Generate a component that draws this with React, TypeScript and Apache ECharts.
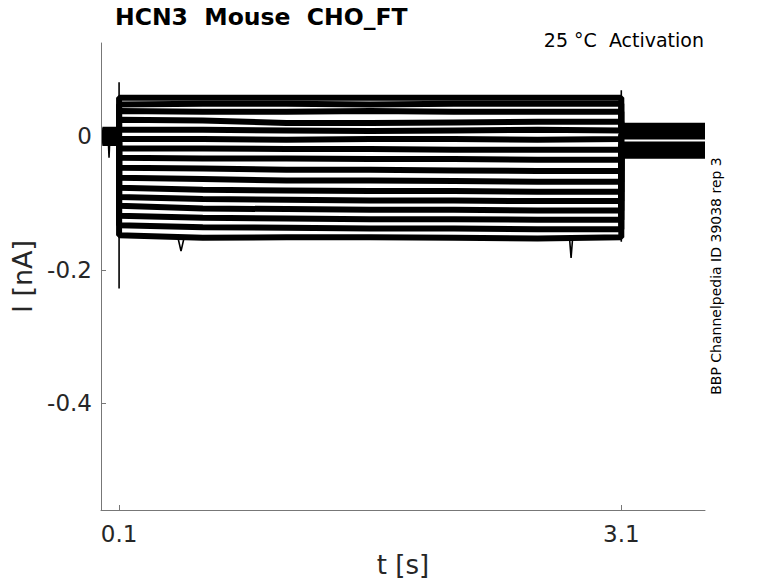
import React, { useEffect, useRef } from "react";
import * as echarts from "echarts";

// time points (s) of the voltage step where each trace level is read
const stepTimes = [0.1, 0.6, 1.1, 1.6, 2.1, 2.6, 3.1];
const preTimes = [0, 0.1];
const tailTimes = [3.1, 3.6];

// holding current before the step (nA)
const preLevels = [0.01, 0.008, 0.006, 0.004, 0.002, 0.0, -0.002, -0.004, -0.006, -0.008, -0.01, 0.005, 0.003, -0.003, -0.005, 0.001];
// current during the step for each sweep (nA)
const stepLevels = [
  [0.058, 0.058, 0.058, 0.058, 0.058, 0.058, 0.058],
  [0.048, 0.049, 0.049, 0.048, 0.049, 0.049, 0.049],
  [0.038, 0.037, 0.037, 0.038, 0.037, 0.037, 0.037],
  [0.025, 0.024, 0.02, 0.02, 0.021, 0.022, 0.022],
  [0.01, 0.01, 0.009, 0.008, 0.009, 0.01, 0.009],
  [-0.004, -0.004, -0.005, -0.004, -0.004, -0.005, -0.004],
  [-0.018, -0.018, -0.019, -0.019, -0.02, -0.02, -0.02],
  [-0.032, -0.033, -0.033, -0.034, -0.034, -0.035, -0.035],
  [-0.047, -0.048, -0.05, -0.05, -0.051, -0.052, -0.052],
  [-0.062, -0.064, -0.066, -0.066, -0.067, -0.068, -0.068],
  [-0.077, -0.08, -0.081, -0.082, -0.082, -0.083, -0.083],
  [-0.091, -0.094, -0.095, -0.096, -0.096, -0.097, -0.097],
  [-0.104, -0.108, -0.109, -0.11, -0.11, -0.111, -0.111],
  [-0.119, -0.122, -0.123, -0.124, -0.124, -0.125, -0.125],
  [-0.133, -0.136, -0.137, -0.138, -0.138, -0.139, -0.139],
  [-0.148, -0.152, -0.151, -0.151, -0.152, -0.153, -0.151],
];
// tail current after the step (nA)
const tailLevels = [0.016, 0.013, 0.01, 0.008, 0.006, 0.004, 0.002, 0.0, -0.012, -0.014, -0.016, -0.018, -0.02, -0.023, -0.026, -0.029];
// capacitive transients at step on / off and a dip before the step
const onTransient = [[0.1, 0.081], [0.1, -0.228]];
const offTransient = [[3.1, 0.069], [3.1, -0.158]];
const preDip = [[0.035, -0.002], [0.04, -0.032], [0.045, -0.002]];
const lowSpikes = [[0.45, -0.15], [0.47, -0.172], [0.49, -0.15]];
const lowSpikes2 = [[2.79, -0.15], [2.8, -0.182], [2.81, -0.15]];

const xTicks = [0.1, 3.1];
const yTicks = [0, -0.2, -0.4];

const App: React.FC = () => {
  const ref = useRef<HTMLDivElement>(null);
  useEffect(() => {
    if (!ref.current) return;
    const chart = echarts.init(ref.current, undefined, { renderer: "svg" });
    const traceSeries = stepLevels.map((lv, i) => {
      const data: number[][] = [];
      preTimes.forEach((t) => data.push([t, preLevels[i]]));
      stepTimes.forEach((t, j) => data.push([t, lv[j]]));
      tailTimes.forEach((t) => data.push([t, tailLevels[i]]));
      return {
        type: "line",
        data,
        symbol: "none",
        silent: true,
        lineStyle: { color: "#000", width: 6 },
        z: 2,
      };
    });
    const extra = [onTransient, offTransient, preDip, lowSpikes, lowSpikes2].map((d) => ({
      type: "line",
      data: d,
      symbol: "none",
      silent: true,
      lineStyle: { color: "#000", width: 1.6 },
      z: 3,
    }));
    chart.setOption({
      animation: false,
      grid: { left: 101, right: 73, top: 43, bottom: 70, containLabel: false },
      xAxis: {
        type: "value",
        min: -0.008,
        max: 3.6,
        name: "t [s]",
        nameLocation: "middle",
        nameGap: 42,
        nameTextStyle: { fontFamily: "DejaVu Sans", fontSize: 26, color: "#262626" },
        axisLine: { show: true, onZero: false, lineStyle: { color: "#777", width: 1 } },
        axisTick: { show: true, inside: true, length: 5, customValues: xTicks, lineStyle: { color: "#777" } },
        axisLabel: { customValues: xTicks, fontFamily: "DejaVu Sans", fontSize: 23, color: "#262626", margin: 12 },
        splitLine: { show: false },
      },
      yAxis: {
        type: "value",
        min: -0.56,
        max: 0.14,
        name: "I [nA]",
        nameLocation: "middle",
        nameGap: 60,
        nameRotate: 90,
        nameTextStyle: { fontFamily: "DejaVu Sans", fontSize: 27, color: "#262626" },
        axisLine: { show: true, onZero: false, lineStyle: { color: "#777", width: 1 } },
        axisTick: { show: true, inside: true, length: 5, customValues: yTicks, lineStyle: { color: "#777" } },
        axisLabel: { customValues: yTicks, fontFamily: "DejaVu Sans", fontSize: 23, color: "#262626", margin: 9 },
        splitLine: { show: false },
      },
      graphic: [
        {
          type: "text",
          left: 115,
          top: 5,
          style: { text: "HCN3  Mouse  CHO_FT", font: "bold 23.5px 'DejaVu Sans'", fill: "#000" },
        },
        {
          type: "text",
          right: 74,
          top: 30,
          style: { text: "25 °C  Activation", font: "19px 'DejaVu Sans'", fill: "#000" },
        },
        {
          type: "text",
          x: 716,
          y: 276,
          rotation: Math.PI / 2,
          style: {
            text: "BBP Channelpedia ID 39038 rep 3",
            font: "14px 'DejaVu Sans'",
            fill: "#000",
            align: "center",
            verticalAlign: "middle",
          },
        },
      ],
      series: [...traceSeries, ...extra],
    });
    return () => chart.dispose();
  }, []);
  return <div ref={ref} style={{ width: 778, height: 583, position: "absolute", left: 0, top: 0 }} />;
};

export default App;
